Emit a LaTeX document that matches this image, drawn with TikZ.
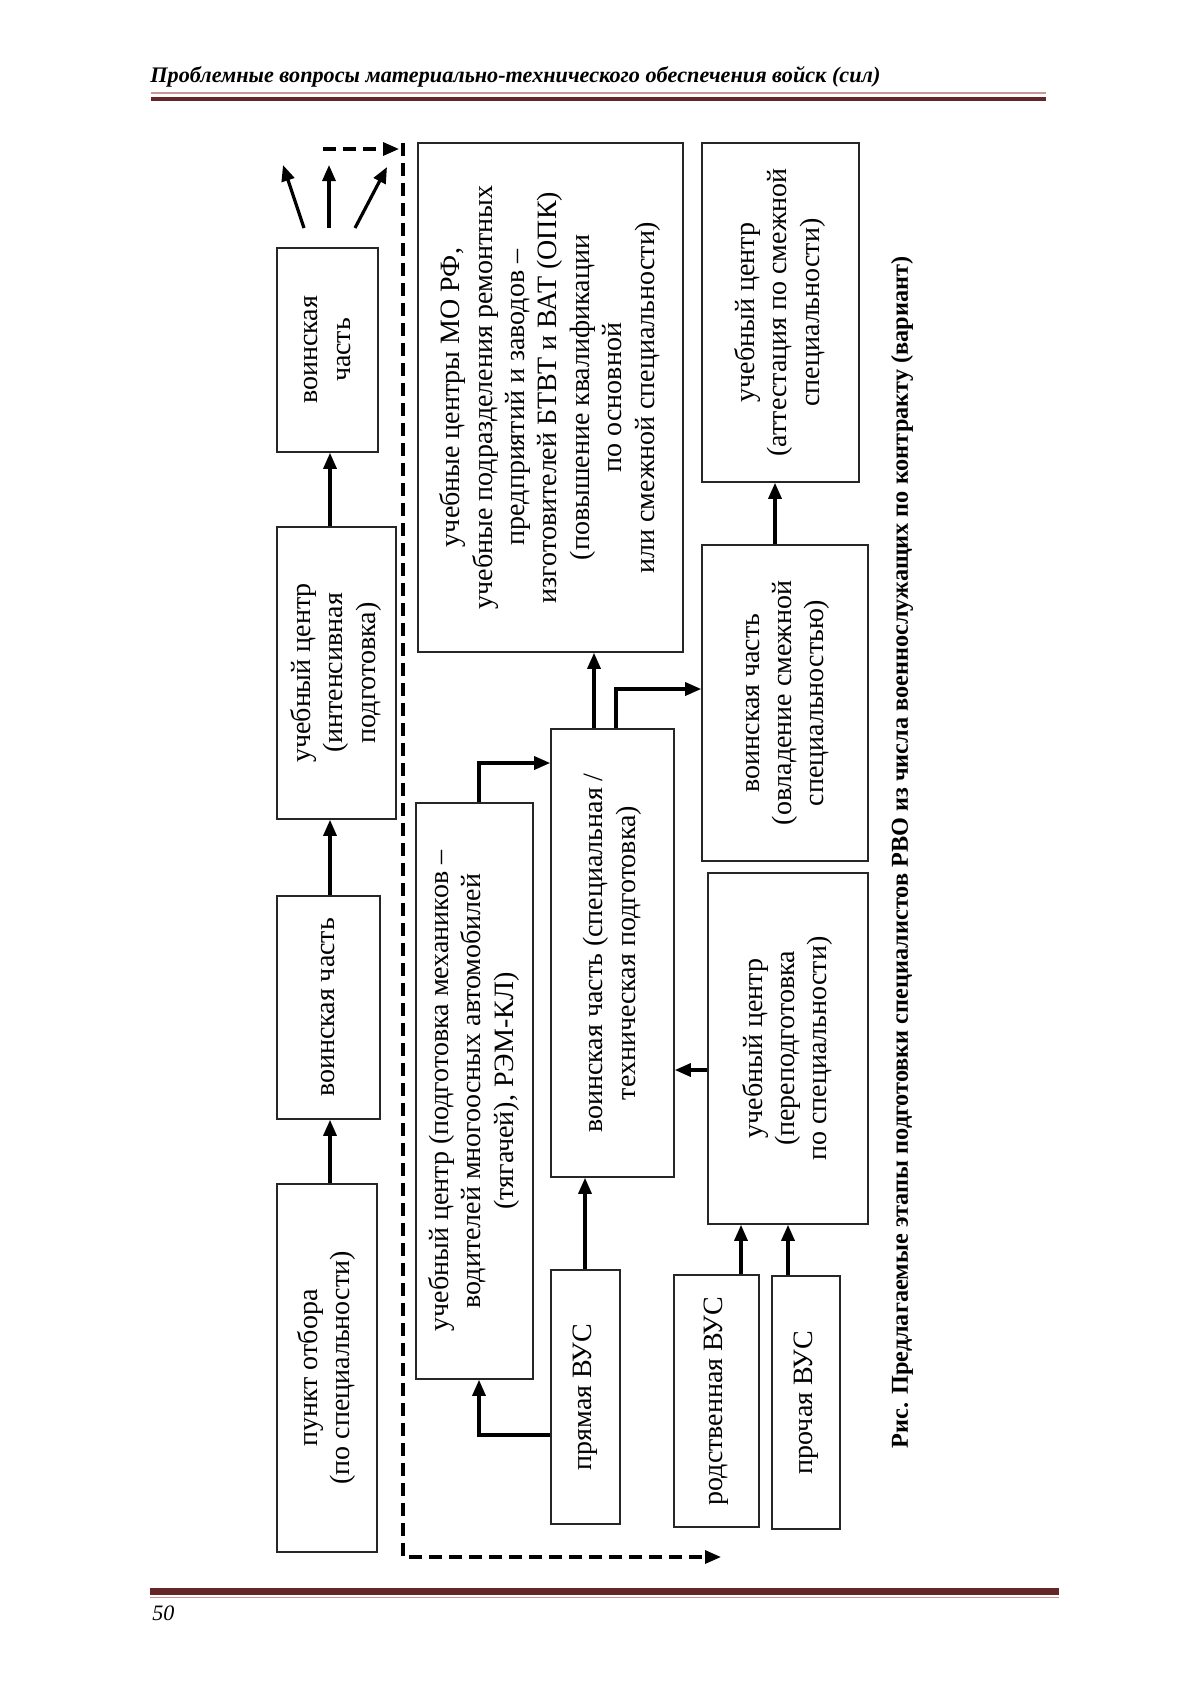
\documentclass[tikz,border=0pt]{standalone}
\usepackage{fontspec}
\setmainfont{Liberation Serif}
\usetikzlibrary{arrows.meta}
\definecolor{maroon}{RGB}{100,38,38}
\definecolor{lightmaroon}{RGB}{200,150,150}
\newcommand{\rtxt}[1]{\rotatebox{90}{\fontsize{14}{16.2}\selectfont\begin{tabular}{@{}c@{}}#1\end{tabular}}}
\begin{document}
\begin{tikzpicture}[x=0.5pt,y=-0.5pt,
 box/.style={draw=black!85, line width=0.8pt, inner sep=0pt, fill=white},
 bx/.style 2 args={minimum width=#1*0.5pt, minimum height=#2*0.5pt},
 arr/.style={line width=1.6pt, -{Triangle[length=8pt,width=6.5pt]}},
 darr/.style={line width=1.6pt, dash pattern=on 6.5pt off 3.5pt, -{Triangle[length=8pt,width=6.5pt]}}]
\fill[white] (0,0) rectangle (1200,1697);
\useasboundingbox (0,0) rectangle (1200,1697);

% header and footer
\node[anchor=base west, inner sep=0] (hdr) at (150,82.5) {\resizebox{365pt}{!}{\fontsize{11}{13}\selectfont\bfseries\itshape Проблемные вопросы материально-технического обеспечения войск (сил)}};
\draw[lightmaroon, line width=0.9pt] (151,93) -- (1046,93);
\fill[maroon] (151,96.5) rectangle (1046,100.7);
\fill[maroon] (150,1588) rectangle (1059,1595);
\draw[lightmaroon, line width=0.6pt] (150,1597.3) -- (1059,1597.3);
\node[anchor=base west, inner sep=0] (pg) at (152,1620) {\fontsize{11}{13}\selectfont\itshape 50};

% boxes
\node[box, bx={101}{204}] (vc1) at (327.5,350) {\rtxt{воинская\\часть}};
\node[box, bx={119}{292}] (intens) at (336.5,673) {\rtxt{учебный центр\\(интенсивная\\подготовка)}};
\node[box, bx={103}{223}] (vc2) at (328.5,1007.5) {\rtxt{воинская часть}};
\node[box, bx={100}{368}] (punkt) at (327,1368) {\rtxt{пункт отбора\\(по специальности)}};
\node[box, bx={265}{509}] (big) at (550.5,397.5) {\rtxt{учебные центры МО РФ,\\учебные подразделения ремонтных\\предприятий и заводов --\\изготовителей БТВТ и ВАТ (ОПК)\\(повышение квалификации\\по основной\\или смежной специальности)}};
\node[box, bx={117}{576}] (mech) at (474.5,1091) {\rtxt{учебный центр (подготовка механиков --\\водителей многоосных автомобилей\\(тягачей), РЭМ-КЛ)}};
\node[box, bx={123}{448}] (spec) at (612.5,953) {\rtxt{воинская часть (специальная /\\техническая подготовка)}};
\node[box, bx={69}{254}] (pryam) at (585.5,1397) {\rtxt{прямая ВУС}};
\node[box, bx={157}{339}] (att) at (780.5,312.5) {\rtxt{учебный центр\\(аттестация по смежной\\специальности)}};
\node[box, bx={166}{316}] (ovl) at (785,703) {\rtxt{воинская часть\\(овладение смежной\\специальностью)}};
\node[box, bx={160}{351}] (perep) at (788,1048.5) {\rtxt{учебный центр\\(переподготовка\\по специальности)}};
\node[box, bx={85}{252}] (rod) at (716.5,1401) {\rtxt{родственная ВУС}};
\node[box, bx={68}{253}] (proch) at (806,1402.5) {\rtxt{прочая ВУС}};

% caption
\node[inner sep=0] (cap) at (902,852.5) {\rotatebox{90}{\resizebox{596pt}{!}{\fontsize{12.5}{14}\selectfont\bfseries Рис. Предлагаемые этапы подготовки специалистов РВО из числа военнослужащих по контракту (вариант)}}};

% helper coordinates
\coordinate (cx330) at (330,0);
\coordinate (cx479) at (479,0);
\coordinate (cx594) at (594,0);
\coordinate (cx616) at (616,0);
\coordinate (cx585) at (585,0);
\coordinate (cx741) at (741,0);
\coordinate (cx788) at (788,0);
\coordinate (cx775) at (775,0);
\coordinate (cy763) at (0,763);
\coordinate (cy689) at (0,689);
\coordinate (cy1070) at (0,1070);
\coordinate (cy1435) at (0,1435);

% left column arrows
\draw[arr] (punkt.north -| cx330) -- (vc2.south -| cx330);
\draw[arr] (vc2.north -| cx330) -- (intens.south -| cx330);
\draw[arr] (intens.north -| cx330) -- (vc1.south -| cx330);
\coordinate (a1s) at (304,228); \coordinate (a1e) at (283,165);
\coordinate (a2s) at (329,228); \coordinate (a2e) at (329,165);
\coordinate (a3s) at (355,228); \coordinate (a3e) at (387,167);
\draw[arr] (a1s) -- (a1e);
\draw[arr] (a2s) -- (a2e);
\draw[arr] (a3s) -- (a3e);

% dashed frame
\coordinate (dhs) at (323,149); \coordinate (dhe) at (399,149);
\coordinate (dtop) at (403,143); \coordinate (dbot) at (403,1557); \coordinate (dend) at (721,1557);
\draw[darr] (dhs) -- (dhe);
\draw[darr] (dtop) -- (dbot) -- (dend);

% inner arrows
\draw[arr] (mech.north -| cx479) |- (spec.west |- cy763);
\draw[arr] (spec.north -| cx594) -- (big.south -| cx594);
\draw[arr] (spec.north -| cx616) |- (ovl.west |- cy689);
\draw[arr] (ovl.north -| cx775) -- (att.south -| cx775);
\draw[arr] (perep.west |- cy1070) -- (spec.east |- cy1070);
\draw[arr] (pryam.north -| cx585) -- (spec.south -| cx585);
\draw[arr] (pryam.west |- cy1435) -| (mech.south -| cx479);
\draw[arr] (rod.north -| cx741) -- (perep.south -| cx741);
\draw[arr] (proch.north -| cx788) -- (perep.south -| cx788);
\end{tikzpicture}
\end{document}
